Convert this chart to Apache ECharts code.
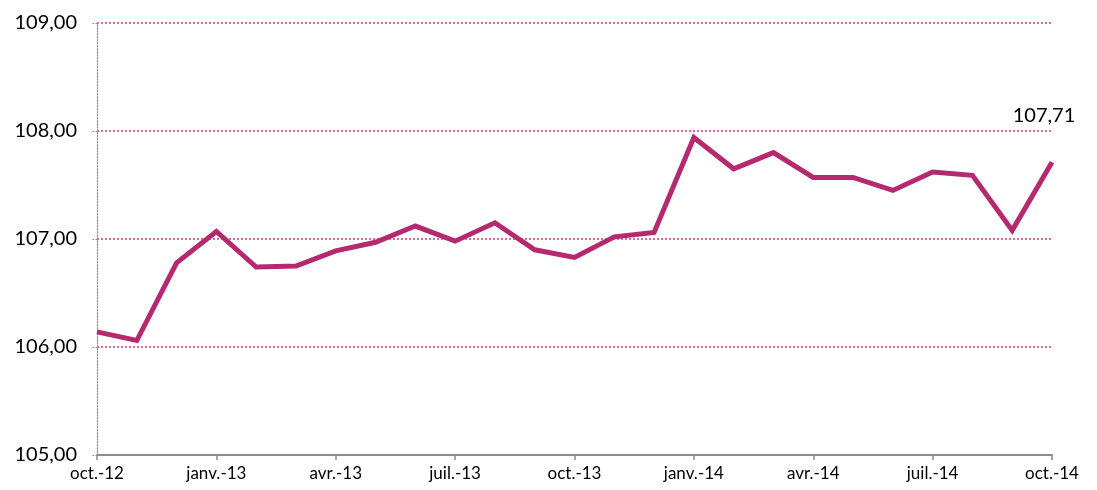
<!DOCTYPE html>
<html><head><meta charset="utf-8">
<script src="https://cdn.jsdelivr.net/npm/echarts@6/dist/echarts.min.js"></script>
<style>html,body{margin:0;padding:0;background:#fff}#c{width:1097px;height:490px}</style>
</head><body><div id="c"></div>
<script>
const categories = ['oct.-12','nov.-12','déc.-12','janv.-13','févr.-13','mars-13','avr.-13','mai-13','juin-13','juil.-13','août-13','sept.-13','oct.-13','nov.-13','déc.-13','janv.-14','févr.-14','mars-14','avr.-14','mai-14','juin-14','juil.-14','août-14','sept.-14','oct.-14'];
const values = [106.14,106.06,106.78,107.07,106.74,106.75,106.89,106.97,107.12,106.98,107.15,106.90,106.83,107.02,107.06,107.94,107.65,107.80,107.57,107.57,107.45,107.62,107.59,107.08,107.71];
const yMin = 105, yMax = 109, yStep = 1;

const fmt = v => Number(v).toFixed(2).replace('.', ',');
const data = values.map((v, i) => i === values.length - 1 ? {
  value: v,
  label: {show: true, position: 'top', offset: [-8, -32], formatter: p => fmt(p.value), fontSize: 20, color: '#000', fontFamily: 'Lato'}
} : v);

const chart = echarts.init(document.getElementById('c'), null, {renderer: 'canvas'});
chart.setOption({
  animation: false,
  grid: {left: 97, right: 45, top: 23, bottom: 35, containLabel: false},
  xAxis: {
    type: 'category', data: categories, boundaryGap: false,
    axisLine: {lineStyle: {color: '#8c8c8c', width: 2}},
    axisTick: {interval: 2, length: 5, lineStyle: {color: '#8c8c8c', width: 1.5}},
    axisLabel: {interval: 2, fontSize: 17, color: '#000', fontFamily: 'Lato', margin: 10},
    splitLine: {show: false}
  },
  yAxis: {
    type: 'value', min: yMin, max: yMax, interval: yStep,
    axisLine: {show: true, lineStyle: {color: '#8c8c8c', type: [1.5, 1.5], width: 1.2}},
    axisTick: {show: true, length: 5, lineStyle: {color: '#8c8c8c', type: [1.5, 1.5]}},
    axisLabel: {formatter: fmt, fontSize: 20, color: '#000', fontFamily: 'Lato', margin: 20},
    splitLine: {show: true, lineStyle: {color: '#cc3a85', type: [2, 2], width: 1.5}}
  },
  series: [{
    type: 'line', data: data, symbol: 'circle', symbolSize: 0, showSymbol: true,
    lineStyle: {color: '#b5296f', width: 5, join: 'miter'},
    itemStyle: {color: '#b5296f'}
  }]
});
</script></body></html>
